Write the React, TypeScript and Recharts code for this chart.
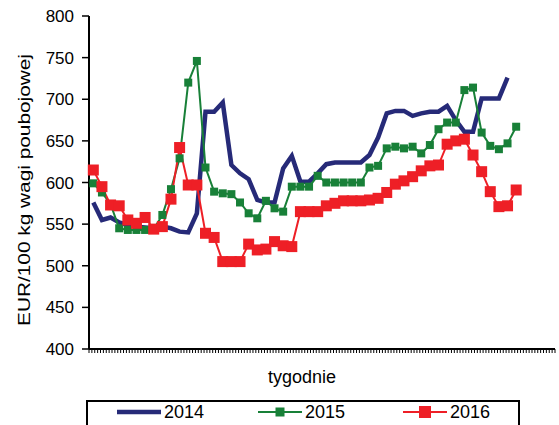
import React from "react"
import { LineChart, Line, XAxis, YAxis, Label } from "recharts"

// weekly prices, EUR/100 kg
const y2014 = [
  576, 555, 558, 552, 549, 547, 546, 545, 547, 545,
  541, 540, 563, 685, 685, 696, 621, 611, 604, 579,
  576, 576, 617, 632, 601, 601, 611, 622, 624, 624,
  624, 624, 633, 654, 683, 686, 686, 680, 683, 685,
  685, 692, 675, 661, 661, 701, 701, 701, 726,
]
const y2015 = [
  599, 588, 574, 545, 543, 543, 543, 544, 561, 592,
  629, 720, 746, 618, 589, 587, 586, 576, 563, 557,
  578, 569, 565, 595, 595, 595, 608, 600, 600, 600,
  600, 600, 618, 620, 641, 643, 641, 643, 635, 645,
  664, 672, 672, 711, 714, 660, 644, 640, 647, 667,
]
const y2016 = [
  615, 595, 573, 572, 555, 551, 558, 544, 547, 580,
  642, 597, 597, 539, 534, 505, 505, 505, 526, 519,
  520, 529, 524, 523, 565, 565, 565, 572, 575, 578,
  578, 578, 579, 581, 588, 598, 602, 607, 614, 620,
  621, 646, 650, 652, 633, 613, 589, 571, 572, 591,
]
const yTicks = [400, 450, 500, 550, 600, 650, 700, 750, 800]
const WEEKS = 54

const SERIES = [
  { key: "y2014", name: "2014", color: "#262a78", width: 4.5, marker: 0 },
  { key: "y2015", name: "2015", color: "#188038", width: 2, marker: 8 },
  { key: "y2016", name: "2016", color: "#ee1f26", width: 2, marker: 11 },
]

const data = y2016.map((_, i) => ({
  x: i + 0.5,
  y2014: y2014[i],
  y2015: y2015[i],
  y2016: y2016[i],
}))

// minor tick marks, three per week
const xTicks: number[] = []
for (let i = 0; i <= WEEKS * 3; i++) xTicks.push(i / 3)

const squareDot = (size: number, color: string) => (props: any) => {
  const { cx, cy, index } = props
  if (cx == null || cy == null) return <g key={index} />
  return <rect key={index} x={cx - size / 2} y={cy - size / 2} width={size} height={size} fill={color} />
}

const FONT = "'Liberation Sans', Arial, sans-serif"
const LEGEND_X = [29, 170, 315]

function ChartLegend() {
  return (
    <div
      style={{
        position: "absolute",
        left: 86,
        top: 400,
        width: 430,
        height: 40,
        border: "2px solid #000",
        background: "#fff",
      }}
    >
      {SERIES.map((s, i) => (
        <div
          key={s.key}
          style={{ position: "absolute", left: LEGEND_X[i], top: -1, display: "flex", alignItems: "center", height: 22 }}
        >
          <svg width={44} height={16}>
            <line x1={0} y1={8} x2={44} y2={8} stroke={s.color} strokeWidth={s.width} />
            {s.marker > 0 && (
              <rect x={22 - (s.marker + 1) / 2} y={8 - (s.marker + 1) / 2} width={s.marker + 1} height={s.marker + 1} fill={s.color} />
            )}
          </svg>
          <span style={{ marginLeft: 3, fontSize: 18, lineHeight: "22px", fontFamily: FONT, color: "#000" }}>{s.name}</span>
        </div>
      ))}
    </div>
  )
}

export default function App() {
  return (
    <div style={{ position: "absolute", left: 0, top: 0, width: 559, height: 425, overflow: "hidden", background: "#fff" }}>
      <LineChart width={559} height={425} data={data} margin={{ top: 16, right: 4, left: 0, bottom: 46 }}>
        <XAxis
          type="number"
          dataKey="x"
          domain={[0, WEEKS]}
          ticks={xTicks}
          interval={0}
          tickSize={4}
          tickFormatter={() => ""}
          axisLine={{ stroke: "#000", strokeWidth: 2 }}
          tickLine={{ stroke: "#000", strokeWidth: 1 }}
          height={30}
        >
          <Label
            content={() => (
              <text x={302} y={383} textAnchor="middle" fontSize={18} fontFamily={FONT} fill="#000">
                tygodnie
              </text>
            )}
          />
        </XAxis>
        <YAxis
          domain={[400, 800]}
          ticks={yTicks}
          interval={0}
          width={89}
          tickSize={7}
          tickMargin={8}
          axisLine={{ stroke: "#000", strokeWidth: 2 }}
          tickLine={{ stroke: "#000", strokeWidth: 1.5 }}
          tick={{ fill: "#000", fontSize: 17, fontFamily: FONT }}
        >
          <Label
            content={() => (
              <text
                x={24}
                y={190}
                transform="rotate(-90 24 190)"
                textAnchor="middle"
                dominantBaseline="central"
                fontSize={17}
                fontFamily={FONT}
                fill="#000"
                textLength={272}
                lengthAdjust="spacingAndGlyphs"
              >
                EUR/100 kg wagi poubojowej
              </text>
            )}
          />
        </YAxis>
        {SERIES.map((s) => (
          <Line
            key={s.key}
            type="linear"
            dataKey={s.key}
            name={s.name}
            stroke={s.color}
            strokeWidth={s.width}
            dot={s.marker > 0 ? squareDot(s.marker, s.color) : false}
            activeDot={false}
            isAnimationActive={false}
          />
        ))}
      </LineChart>
      <ChartLegend />
    </div>
  )
}
